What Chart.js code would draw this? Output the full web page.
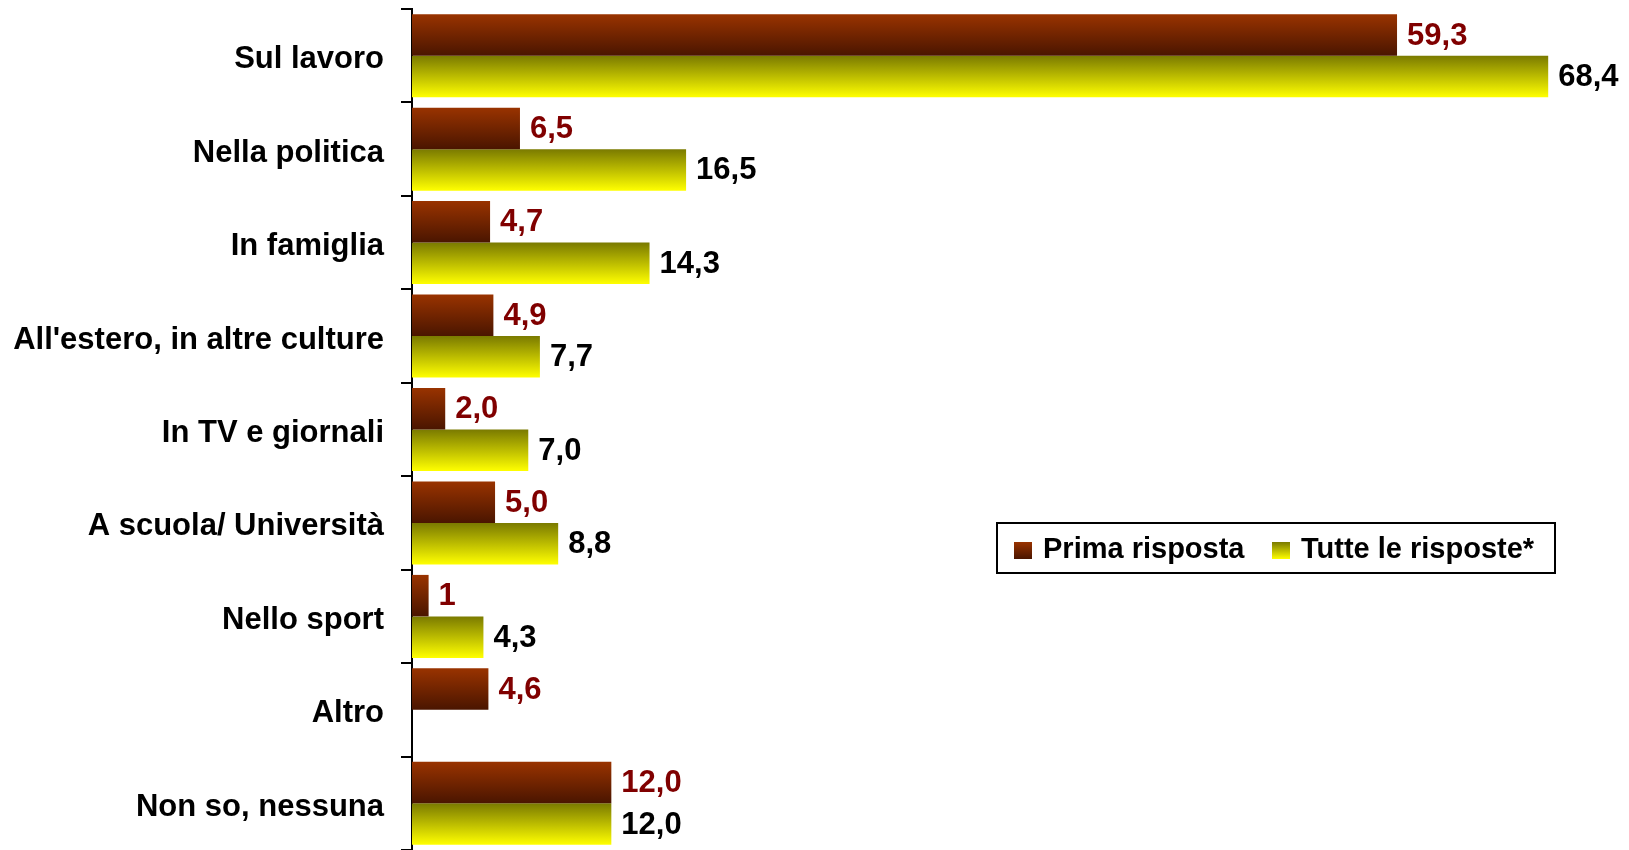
<!DOCTYPE html>
<html>
<head>
<meta charset="utf-8">
<script src="https://cdn.jsdelivr.net/npm/chart.js@4/dist/chart.umd.min.js"></script>
<style>
  html, body { margin: 0; padding: 0; background: #fff; }
  #chart { display: block; }
</style>
</head>
<body>
<canvas id="chart" width="1629" height="850"></canvas>
<script>
var categories = ['Sul lavoro', 'Nella politica', 'In famiglia', "All'estero, in altre culture",
  'In TV e giornali', 'A scuola/ Università', 'Nello sport', 'Altro', 'Non so, nessuna'];
var primaRisposta = [59.3, 6.5, 4.7, 4.9, 2.0, 5.0, 1, 4.6, 12.0];
var tutteRisposte = [68.4, 16.5, 14.3, 7.7, 7.0, 8.8, 4.3, null, 12.0];
var primaLabels = ['59,3', '6,5', '4,7', '4,9', '2,0', '5,0', '1', '4,6', '12,0'];
var tutteLabels = ['68,4', '16,5', '14,3', '7,7', '7,0', '8,8', '4,3', '', '12,0'];
var seriesNames = ['Prima risposta', 'Tutte le risposte*'];

var FONT = "'Liberation Sans', Arial, sans-serif";
var CAT_PCT = 0.888;

// vertical gradient inside each bar, worked out from the category scale
function barGradient(context, top, bottom, lower) {
  var chart = context.chart;
  var yScale = chart.scales.y;
  if (!yScale || context.dataIndex === undefined) return top;
  var center = yScale.getPixelForValue(context.dataIndex);
  var thick = yScale.height / categories.length * CAT_PCT / 2;
  if (!isFinite(center) || !isFinite(thick) || thick <= 0) return top;
  var y0 = lower ? center : center - thick;
  var g = chart.ctx.createLinearGradient(0, y0, 0, y0 + thick);
  g.addColorStop(0, top);
  g.addColorStop(1, bottom);
  return g;
}

var valueLabels = {
  id: 'valueLabels',
  afterDatasetsDraw: function (chart) {
    var ctx = chart.ctx;
    var texts = [primaLabels, tutteLabels];
    var colors = ['#800000', '#000000'];
    ctx.save();
    ctx.font = 'bold 31px ' + FONT;
    ctx.textAlign = 'left';
    ctx.textBaseline = 'middle';
    chart.data.datasets.forEach(function (ds, i) {
      var meta = chart.getDatasetMeta(i);
      meta.data.forEach(function (bar, j) {
        if (ds.data[j] === null || !texts[i][j]) return;
        ctx.fillStyle = colors[i];
        ctx.fillText(texts[i][j], bar.x + 10, bar.y + 1);
      });
    });
    ctx.restore();
  }
};

var boxLegend = {
  id: 'boxLegend',
  afterDraw: function (chart) {
    var ctx = chart.ctx;
    var x = 997, y = 523, w = 558, h = 50;
    ctx.save();
    ctx.fillStyle = '#fff';
    ctx.fillRect(x, y, w, h);
    ctx.strokeStyle = '#000';
    ctx.lineWidth = 2;
    ctx.strokeRect(x, y, w, h);
    var marks = [
      { x: 1014, tx: 1043, top: '#993300', bottom: '#4a1500' },
      { x: 1272, tx: 1301, top: '#7a7a00', bottom: '#ffff00' }
    ];
    ctx.font = 'bold 29px ' + FONT;
    ctx.textBaseline = 'alphabetic';
    marks.forEach(function (m, i) {
      var g = ctx.createLinearGradient(0, 542, 0, 559);
      g.addColorStop(0, m.top);
      g.addColorStop(1, m.bottom);
      ctx.fillStyle = g;
      ctx.fillRect(m.x, 542, 18, 17);
      ctx.fillStyle = '#000';
      ctx.fillText(seriesNames[i], m.tx, 558);
    });
    ctx.restore();
  }
};

var chart = new Chart(document.getElementById('chart').getContext('2d'), {
  type: 'bar',
  data: {
    labels: categories,
    datasets: [
      {
        label: seriesNames[0],
        data: primaRisposta,
        backgroundColor: function (c) { return barGradient(c, '#993300', '#4a1500', false); },
        categoryPercentage: CAT_PCT,
        barPercentage: 1
      },
      {
        label: seriesNames[1],
        data: tutteRisposte,
        backgroundColor: function (c) { return barGradient(c, '#7a7a00', '#ffff00', true); },
        categoryPercentage: CAT_PCT,
        barPercentage: 1
      }
    ]
  },
  options: {
    indexAxis: 'y',
    responsive: false,
    animation: false,
    devicePixelRatio: 1,
    layout: { padding: { top: 9, right: 21, bottom: 0, left: 0 } },
    plugins: {
      legend: { display: false },
      tooltip: { enabled: false }
    },
    scales: {
      x: { display: false, min: 0, max: 72 },
      y: {
        afterFit: function (scale) {
          scale.width = 412;
          scale.paddingTop = 0;
          scale.paddingBottom = 0;
        },
        grid: {
          offset: true,
          drawOnChartArea: false,
          drawTicks: true,
          tickLength: 11,
          color: '#000',
          lineWidth: 2
        },
        border: { display: true, color: '#000', width: 2 },
        ticks: {
          padding: 17,
          labelOffset: 4,
          color: '#000',
          font: { family: FONT, size: 31, weight: 'bold' }
        }
      }
    }
  },
  plugins: [valueLabels, boxLegend]
});
chart.update();
</script>
</body>
</html>
